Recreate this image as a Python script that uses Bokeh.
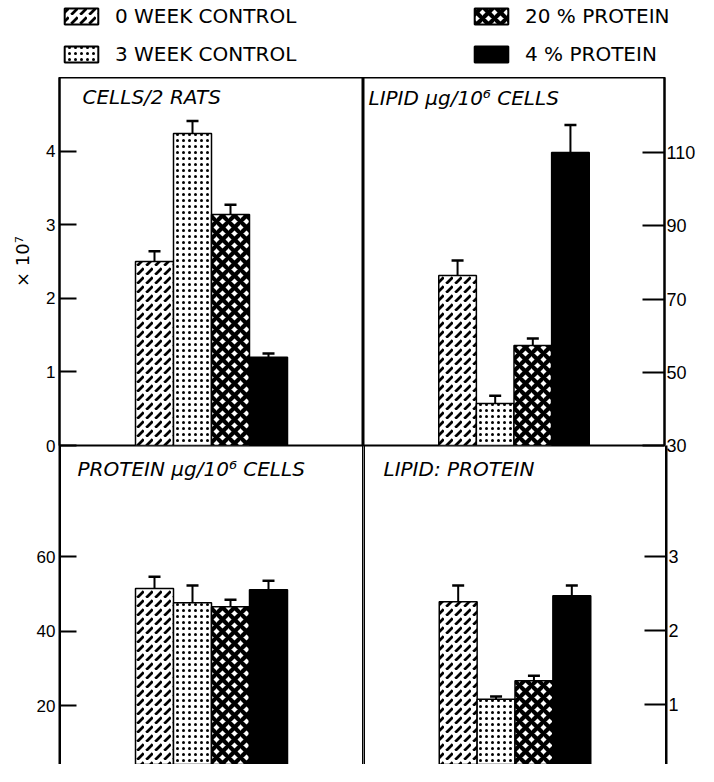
from bokeh.plotting import figure
from bokeh.layouts import column, row
from bokeh.models import (ColumnDataSource, Range1d, FixedTicker, Whisker, TeeHead,
                          Label, Legend, LegendItem, Span)
from bokeh.embed import file_html
from bokeh.resources import INLINE

# ---------------- data ----------------
categories = ["0 WEEK CONTROL", "3 WEEK CONTROL", "20 % PROTEIN", "4 % PROTEIN"]

cells = [2.50, 4.24, 3.14, 1.20]          # x 10^7 cells / 2 rats
cells_err = [0.14, 0.17, 0.13, 0.05]
lipid = [76.4, 41.5, 57.3, 110.0]         # lipid ug / 10^6 cells
lipid_err = [4.1, 2.1, 1.9, 7.5]
protein = [51.4, 47.6, 46.5, 51.1]        # protein ug / 10^6 cells
protein_err = [3.2, 4.6, 1.9, 2.4]
ratio = [2.39, 1.07, 1.32, 2.47]          # lipid : protein
ratio_err = [0.22, 0.04, 0.07, 0.14]

cells_ticks = [0, 1, 2, 3, 4]
lipid_ticks = [30, 50, 70, 90, 110]
protein_ticks = [20, 40, 60]
ratio_ticks = [1, 2, 3]

# ---------------- styles ----------------
fills = ["white", "white", "white", "black"]
hatches = [",", ".", "x", " "]
hscales = [9, 6, 12, 8]
hweights = [2.8, 2.5, 4.2, 1]

TICK_FONT = "Liberation Sans"
TXT_FONT = "DejaVu Sans"

LEFT_B, LEFT_F, RIGHT_F, RIGHT_B = 59, 304, 303, 32
TOP_F, TOP_PAD, BOT_F, LEG_H = 368, 12, 319, 77
LW = 2


def make_panel(values, errs, y_rng, base, ticks, side, title, dx, dy, top_row, axis_label=None):
    n = len(values)
    src = ColumnDataSource(dict(
        x=list(range(n)), top=values,
        upper=[v + e for v, e in zip(values, errs)],
        fill=fills, hatch=hatches, hs=hscales, hw=hweights))
    left = side == "left"
    w = LEFT_B + LEFT_F if left else RIGHT_F + RIGHT_B
    h = TOP_F + TOP_PAD if top_row else BOT_F
    x0, x1 = -2.5, n + 1.5
    p = figure(width=w, height=h, x_range=Range1d(x0, x1), y_range=Range1d(*y_rng),
               x_axis_location=None, y_axis_location=side, title=None,
               output_backend="svg", toolbar_location=None,
               min_border_left=LEFT_B if left else 0, min_border_right=0 if left else RIGHT_B,
               min_border_top=0, min_border_bottom=TOP_PAD if top_row else 0,
               background_fill_alpha=0, border_fill_alpha=0)
    p.grid.visible = False
    if top_row:
        p.outline_line_color = "black"
        p.outline_line_width = LW
        p.outline_line_alpha = 1.0
    else:
        # frame sides only (the figure is cut off below, as in the original)
        p.outline_line_color = None
        for loc in (x0, x1):
            p.add_layout(Span(location=loc, dimension="height",
                              line_color="black", line_width=3))
    p.vbar(x="x", top="top", bottom=base, width=1.0, source=src,
           fill_color="fill", line_color="black", line_width=1.5,
           hatch_pattern="hatch", hatch_color="black", hatch_scale="hs", hatch_weight="hw")
    p.add_layout(Whisker(source=src, base="x", lower="top", upper="upper", dimension="height",
                         line_color="black", line_width=2,
                         upper_head=TeeHead(size=12, line_color="black", line_width=2.5),
                         lower_head=None))
    ax = p.yaxis[0]
    ax.ticker = FixedTicker(ticks=ticks)
    ax.major_tick_in = 17 if left else 22
    ax.major_tick_out = 0
    ax.minor_tick_line_color = None
    ax.axis_line_width = LW
    ax.axis_line_color = "black"
    ax.major_tick_line_width = LW
    ax.major_tick_line_color = "black"
    ax.major_label_text_font = TICK_FONT
    ax.major_label_text_font_size = "17px" if left else "18px"
    ax.major_label_text_color = "black"
    ax.major_label_standoff = 4 if left else 2
    if axis_label:
        ax.axis_label = axis_label
        ax.axis_label_text_font = TXT_FONT
        ax.axis_label_text_font_style = "normal"
        ax.axis_label_text_font_size = "18px"
        ax.axis_label_text_color = "black"
        ax.axis_label_standoff = 10
    p.add_layout(Label(x=x0, y=y_rng[1], x_offset=dx, y_offset=-dy, text=title,
                       text_font=TXT_FONT, text_font_style="italic",
                       text_font_size="20px", text_baseline="top", text_color="black"))
    return p, src


tl, src0 = make_panel(cells, cells_err, (0, 5.0), 0, cells_ticks, "left",
                      "CELLS/2 RATS", 23, 7, True, axis_label="× 10⁷")
tr, _ = make_panel(lipid, lipid_err, (30, 130.5), lipid_ticks[0], lipid_ticks, "right",
                   "LIPID μg/10⁶ CELLS", 5, 8, True)
bl, _ = make_panel(protein, protein_err, (4.2, 89.8), 0, protein_ticks, "left",
                   "PROTEIN μg/10⁶ CELLS", 18, 11, False)
br, _ = make_panel(ratio, ratio_err, (0.19, 4.5), 0, ratio_ticks, "right",
                   "LIPID: PROTEIN", 20, 11, False)

# ---------------- legend ----------------
lg = figure(width=LEFT_B + LEFT_F + RIGHT_F + RIGHT_B, height=LEG_H, title=None,
            x_axis_location=None, y_axis_location=None,
            output_backend="svg", toolbar_location=None,
            min_border_left=0, min_border_right=0, min_border_top=0, min_border_bottom=0,
            border_fill_alpha=0, background_fill_alpha=0)
lg.grid.visible = False
lg.outline_line_color = None
lr = lg.vbar(x="x", top="top", width=1.0, source=src0,
             fill_color="fill", line_color="black", line_width=2,
             hatch_pattern="hatch", hatch_color="black", hatch_scale="hs", hatch_weight="hw")
lr.visible = False
legend = Legend(items=[LegendItem(label=c, renderers=[lr], index=i) for i, c in enumerate(categories)],
                location=(60, 11), orientation="vertical", ncols=2,
                glyph_width=42, glyph_height=20, label_standoff=13, label_width=341,
                spacing=14, padding=0, margin=0, border_line_color=None,
                background_fill_alpha=0, inactive_fill_alpha=0,
                label_text_font=TXT_FONT, label_text_font_size="20px", label_text_color="black")
lg.add_layout(legend)

bottom = row(bl, br, margin=(-TOP_PAD, 0, 0, 0))
layout = column(lg, row(tl, tr), bottom)

open("out.html", "w").write(file_html(layout, INLINE))
